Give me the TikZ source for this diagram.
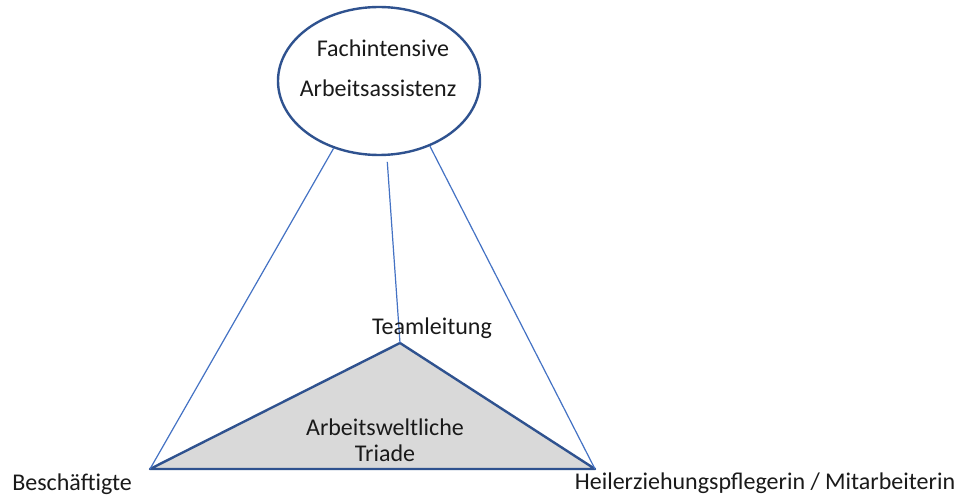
\documentclass[tikz,border=0pt]{standalone}
\usepackage{fontspec}
\setmainfont{Carlito}
\usetikzlibrary{shapes.geometric}
\definecolor{dkblue}{HTML}{2F528F}
\definecolor{ltblue}{HTML}{4472C4}
\definecolor{trifill}{HTML}{D9D9D9}
\definecolor{txt}{HTML}{1A1A1A}
\begin{document}
\begin{tikzpicture}[x=1pt,y=-1pt,
  lbl/.style={font=\fontsize{24}{29}\selectfont, text=txt, inner sep=0pt},
  thinline/.style={draw=ltblue, line width=1.2pt},
  thickline/.style={draw=dkblue, line width=2.4pt}]
\useasboundingbox (0,0) rectangle (962,497);
\fill[white] (0,0) rectangle (962,497);
% ellipse
\node[ellipse, thickline, fill=white, minimum width=202pt, minimum height=148pt, inner sep=0pt] (E) at (379,81) {};
\node[lbl] (f1) at (383,48) {Fachintensive};
\node[lbl] (f2) at (378,88) {Arbeitsassistenz};
% triangle
\coordinate (T) at (400,343);
\coordinate (B) at (150,469);
\coordinate (H) at (595,469);
\filldraw[fill=trifill, thickline, line join=round] (T) -- (B) -- (H) -- cycle;
% connectors
\draw[thinline] (E.236) -- (B);
\draw[thinline, shorten <=6pt] (E.276) -- (T);
\draw[thinline] (E.308) -- (H);
% labels
\node[lbl] (tl) at (432,328) {Teamleitung};
\node[lbl] (a1) at (385,427) {Arbeitsweltliche};
\node[lbl] (a2) at (385,453) {Triade};
\node[lbl] (bs) at (72,484) {Beschäftigte};
\node[lbl] (hp) at (765,483) {Heilerziehungspflegerin / Mitarbeiterin};
\end{tikzpicture}
\end{document}
